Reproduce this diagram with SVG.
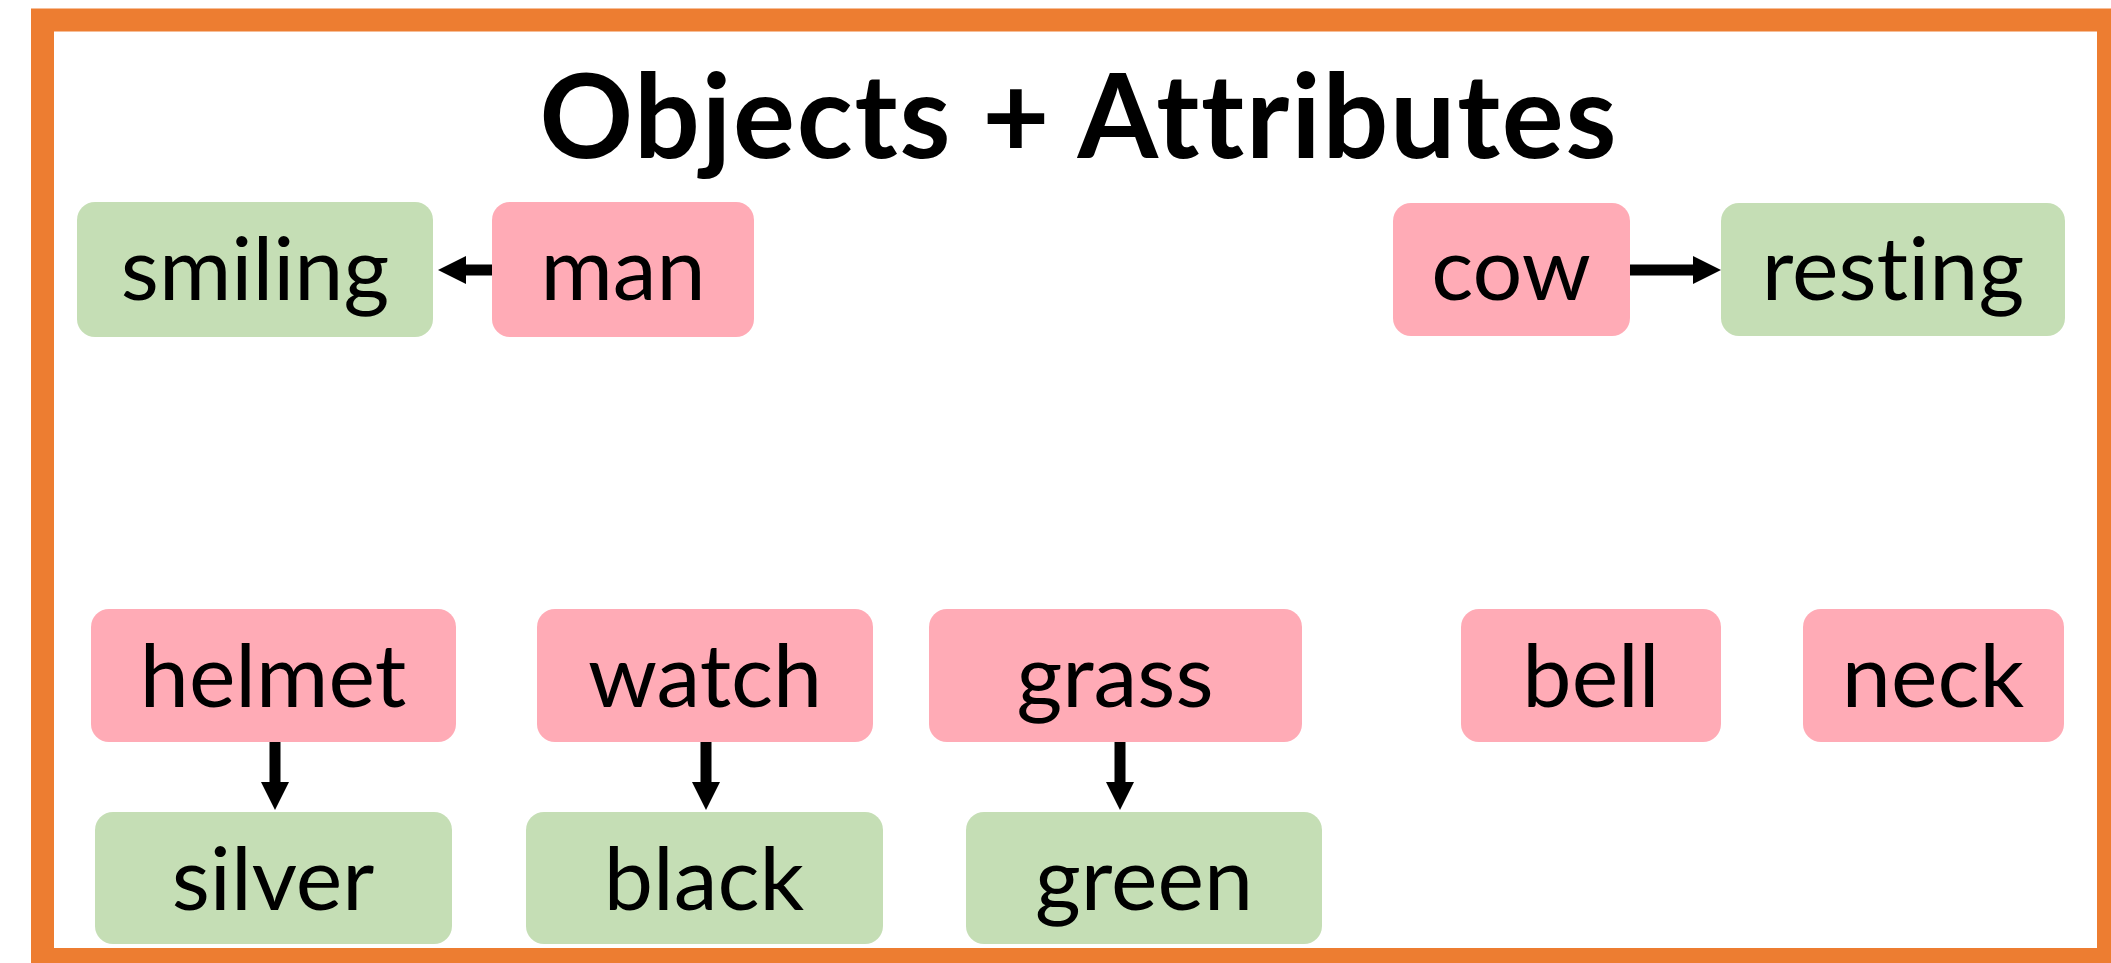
<svg xmlns="http://www.w3.org/2000/svg" width="2111" height="963" viewBox="0 0 2111 963">
  <style>
    text { font-variant-ligatures: none; font-feature-settings: "liga" 0; }
    .obj { fill: #FFABB6; }
    .attr { fill: #C5DEB5; }
    .lbl { font-family: Lato, "Liberation Sans", sans-serif; font-size: 88px; fill: #000; text-anchor: middle; }
    .title { font-family: Lato, "Liberation Sans", sans-serif; font-size: 116px; font-weight: bold; fill: #000; text-anchor: middle; }
    .edge { stroke: #000; stroke-width: 11; fill: none; }
  </style>
  <defs>
    <marker id="ah" markerUnits="userSpaceOnUse" markerWidth="30" markerHeight="30" refX="2" refY="14" orient="auto" viewBox="0 0 30 30">
      <path d="M0,0 L28,14 L0,28 z" fill="#000"/>
    </marker>
  </defs>
  <rect width="2111" height="963" fill="#fff"/>
  <rect id="frame" x="42.5" y="20" width="2066" height="939.5" fill="none" stroke="#ED7D31" stroke-width="23"/>
  <text id="title" class="title" x="1078" y="158" textLength="1077" lengthAdjust="spacing">Objects + Attributes</text>

  <g id="connectors">
    <line class="edge" x1="492" y1="270" x2="464" y2="270" marker-end="url(#ah)"/>
    <line class="edge" x1="1630" y1="270" x2="1695" y2="270" marker-end="url(#ah)"/>
    <line class="edge" x1="275" y1="742" x2="275" y2="784" marker-end="url(#ah)"/>
    <line class="edge" x1="706" y1="742" x2="706" y2="784" marker-end="url(#ah)"/>
    <line class="edge" x1="1120" y1="742" x2="1120" y2="784" marker-end="url(#ah)"/>
  </g>

  <g id="node-smiling"><rect class="attr" x="77" y="202" width="356" height="135" rx="18"/><text class="lbl" x="255" y="300">smiling</text></g>
  <g id="node-man"><rect class="obj" x="492" y="202" width="262" height="135" rx="18"/><text class="lbl" x="623" y="300">man</text></g>
  <g id="node-cow"><rect class="obj" x="1393" y="203" width="237" height="133" rx="18"/><text class="lbl" x="1511" y="300">cow</text></g>
  <g id="node-resting"><rect class="attr" x="1721" y="203" width="344" height="133" rx="18"/><text class="lbl" x="1893" y="300">resting</text></g>

  <g id="node-helmet"><rect class="obj" x="91" y="609" width="365" height="133" rx="18"/><text class="lbl" x="273" y="707">helmet</text></g>
  <g id="node-watch"><rect class="obj" x="537" y="609" width="336" height="133" rx="18"/><text class="lbl" x="705" y="707">watch</text></g>
  <g id="node-grass"><rect class="obj" x="929" y="609" width="373" height="133" rx="18"/><text class="lbl" x="1115" y="707">grass</text></g>
  <g id="node-bell"><rect class="obj" x="1461" y="609" width="260" height="133" rx="18"/><text class="lbl" x="1591" y="707">bell</text></g>
  <g id="node-neck"><rect class="obj" x="1803" y="609" width="261" height="133" rx="18"/><text class="lbl" x="1933" y="707">neck</text></g>

  <g id="node-silver"><rect class="attr" x="95" y="812" width="357" height="132" rx="18"/><text class="lbl" x="273" y="910">silver</text></g>
  <g id="node-black"><rect class="attr" x="526" y="812" width="357" height="132" rx="18"/><text class="lbl" x="704" y="910">black</text></g>
  <g id="node-green"><rect class="attr" x="966" y="812" width="356" height="132" rx="18"/><text class="lbl" x="1144" y="910">green</text></g>
</svg>
